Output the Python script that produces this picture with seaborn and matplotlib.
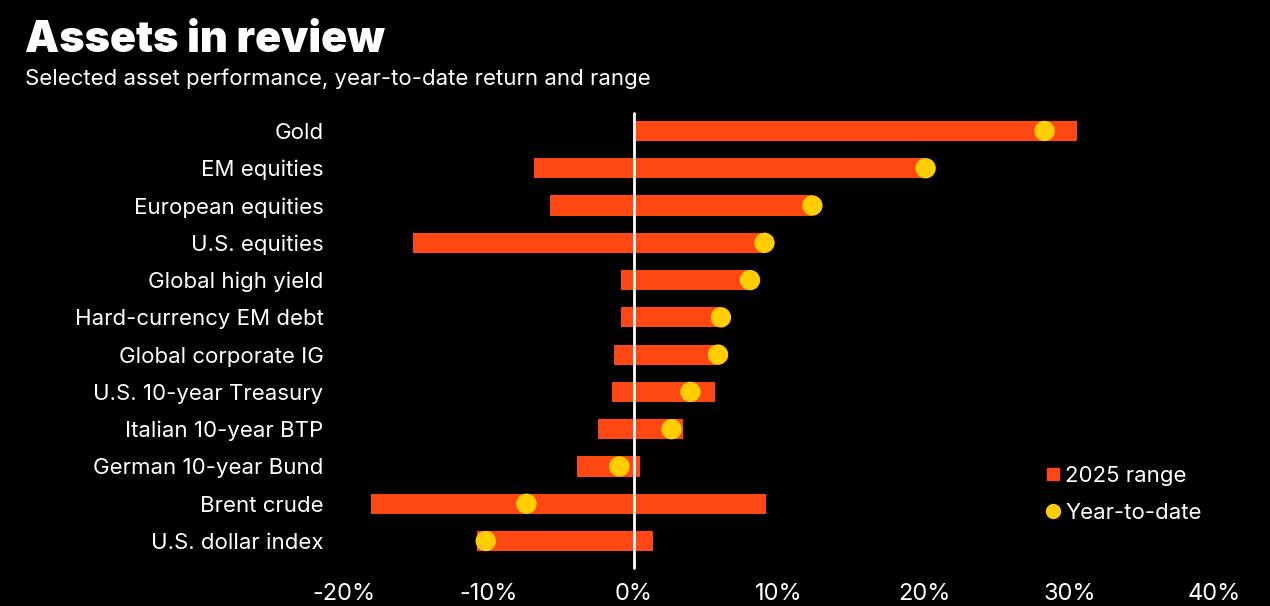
import matplotlib
matplotlib.use("Agg")
import matplotlib.pyplot as plt
from matplotlib.lines import Line2D
import seaborn as sns
import pandas as pd

# Data (percent)
assets = ["Gold", "EM equities", "European equities", "U.S. equities",
          "Global high yield", "Hard-currency EM debt", "Global corporate IG",
          "U.S. 10-year Treasury", "Italian 10-year BTP", "German 10-year Bund",
          "Brent crude", "U.S. dollar index"]
range_low = [0.0, -6.9, -5.8, -15.2, -0.9, -0.9, -1.4, -1.5, -2.5, -3.9, -18.1, -10.8]
range_high = [30.5, 20.1, 12.3, 9.1, 8.0, 6.1, 5.8, 5.6, 3.4, 0.4, 9.1, 1.3]
ytd = [28.3, 20.1, 12.3, 9.0, 8.0, 6.0, 5.8, 3.9, 2.6, -1.0, -7.4, -10.2]
xticks = [-20, -10, 0, 10, 20, 30, 40]

BG = "black"
ORANGE = "#FF4713"
YELLOW = "#FFCD00"

df = pd.DataFrame({"asset": assets, "low": range_low, "high": range_high, "ytd": ytd})
df["pos"] = range(len(df))

sns.set_theme(style="dark")
plt.rcParams["font.family"] = ["Inter", "DejaVu Sans"]

fig = plt.figure(figsize=(12.7, 6.06), dpi=100, facecolor=BG)
W, H = 1270, 606
left_px, right_px = 329, 1229
top_px, bot_px = 108.6, 563.4
ax = fig.add_axes([left_px / W, 1 - bot_px / H, (right_px - left_px) / W, (bot_px - top_px) / H])
ax.set_facecolor(BG)

ax.barh(df["pos"], df["high"] - df["low"], left=df["low"], height=0.54,
        color=ORANGE, edgecolor="none", linewidth=0, zorder=2)
ax.axvline(0, color="white", lw=2, ymin=-0.01, ymax=0.99, zorder=3, clip_on=False)
sns.scatterplot(data=df, x="ytd", y="pos", ax=ax, color=YELLOW, s=215,
                edgecolor="none", linewidth=0, zorder=4, legend=False)

ax.set_xlim(-21, 41)
ax.set_ylim(len(df) - 0.4, -0.6)
ax.set_xticks(xticks)
ax.set_xticklabels([f"{t}%" for t in xticks], color="white", fontsize=17)
ax.set_yticks(df["pos"])
ax.set_yticklabels(df["asset"], color="white", fontsize=16)
ax.tick_params(axis="y", length=0, pad=4)
ax.tick_params(axis="x", length=0, pad=14)
ax.set_xlabel("")
ax.set_ylabel("")
ax.grid(False)
for s in ax.spines.values():
    s.set_visible(False)

handles = [
    Line2D([], [], marker="s", linestyle="none", color=ORANGE, markersize=9),
    Line2D([], [], marker="o", linestyle="none", color=YELLOW, markersize=10),
]
leg = fig.legend(handles, ["2025 range", "Year-to-date"], loc="upper left",
                 bbox_to_anchor=(1022 / W, 1 - 446 / H), frameon=False,
                 fontsize=16, labelcolor="white", handletextpad=0.05,
                 labelspacing=0.75, handlelength=1.0)

fig.text(25 / W, 1 - 52 / H, "Assets in review", color="white", fontsize=31,
         fontweight="black", va="baseline")
fig.text(25 / W, 1 - 85 / H, "Selected asset performance, year-to-date return and range",
         color="white", fontsize=16, va="baseline")

fig.savefig("out.png", dpi=100, facecolor=BG)
